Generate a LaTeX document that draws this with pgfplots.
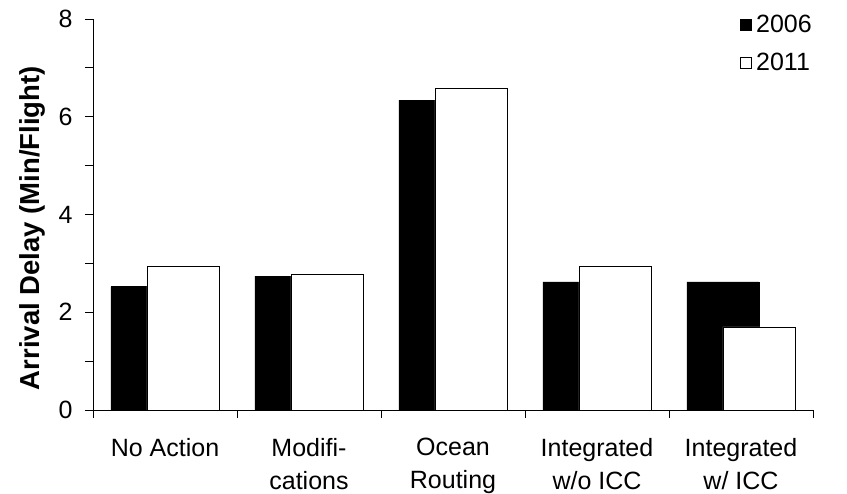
\documentclass[border=0pt]{standalone}
\usepackage{pgfplots}
\pgfplotsset{compat=1.18}
\usepackage{fontspec}
\setmainfont{Liberation Sans}
\begin{document}
\begin{tikzpicture}[font=\fontsize{25}{33}\selectfont]
\useasboundingbox (-93pt,-84pt) rectangle (754pt,410pt);
\begin{axis}[
  at={(0pt,0pt)}, anchor=origin,
  scale only axis, width=720pt, height=391pt,
  xmin=0, xmax=5, ymin=0, ymax=8,
  axis lines=left, axis line style={-, black, line width=0.8pt},
  ybar, bar width=0.5,
  xtick={0.5,1.5,2.5,3.5,4.5},
  xticklabels={No Action,{Modifi-\\cations},{Ocean\\Routing},{Integrated\\w/o ICC},{Integrated\\w/ ICC}},
  xticklabel style={align=center, anchor=north, yshift=-17pt},
  major x tick style={draw=none},
  minor xtick={0,1,2,3,4,5},
  ytick={0,2,4,6,8},
  minor ytick={1,3,5,7},
  tick align=outside, tick pos=left,
  major tick length=8pt, minor tick length=8pt,
  tick style={black, line width=0.8pt},
  /pgf/number format/assume math mode=true,
  yticklabel style={xshift=-9pt},
  ylabel={\bfseries Arrival\ Delay\ (Min/Flight)},
  every axis y label/.style={at={(rel axis cs:-0.0847,0.465)}, rotate=90, anchor=center, font=\fontsize{27.5}{30}\selectfont},
  legend image code/.code={\draw[#1, line width=0.8pt] (0pt,-5.5pt) rectangle (11pt,5.5pt); \path[draw=none, fill=none] (0pt,0pt) -- (14pt,0pt);},
  legend style={at={(rel axis cs:0.898,1.015)}, anchor=north west, draw=none, fill=none,
    font=\fontsize{25}{30}\selectfont, row sep=15pt, inner sep=0pt},
  legend cell align=left,
  clip=false,
]
\addplot[bar shift=-0.125, fill=black, draw=black, line width=0.8pt] coordinates {
  (0.5,2.52) (1.5,2.74) (2.5,6.34) (3.5,2.62) (4.5,2.62)};
\addplot[bar shift=0.125, fill=white, draw=black, line width=0.8pt] coordinates {
  (0.5,2.94) (1.5,2.78) (2.5,6.58) (3.5,2.94) (4.5,1.70)};
\legend{2006,2011}
\end{axis}
\end{tikzpicture}
\end{document}
